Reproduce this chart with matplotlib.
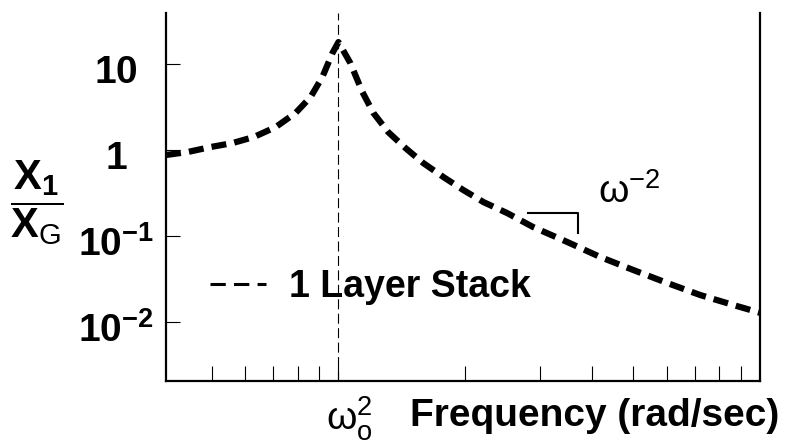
import matplotlib
matplotlib.use("Agg")
import matplotlib.pyplot as plt
from matplotlib.lines import Line2D

# ---------- values ----------
# frequency in units of the resonance frequency
freq_ratio = [0.39, 0.439, 0.498, 0.561, 0.630, 0.710, 0.791, 0.859, 0.916, 0.968,
              1.0, 1.067, 1.140, 1.211, 1.312, 1.442, 1.589, 1.774, 1.977, 2.208,
              2.512, 2.897, 3.491, 4.178, 5.0, 6.026, 7.211, 8.630, 10.0]
# transmissibility X1/XG
amplitude = [0.875, 0.948, 1.084, 1.205, 1.416, 1.849, 2.692, 4.130, 7.063, 13.43,
             18.0, 10.28, 4.72, 2.69, 1.618, 1.054, 0.706, 0.485, 0.343, 0.248,
             0.185, 0.127, 0.0851, 0.0570, 0.0403, 0.0284, 0.0206, 0.0158, 0.0128]

omega0 = 1.0
ytick_vals = [10, 1, 0.1, 0.01]
ytick_labels = [r"$\mathbf{10}$", r"$\mathbf{1}$", r"$\mathbf{10^{-1}}$", r"$\mathbf{10^{-2}}$"]
xminor_ticks = [0.5, 0.6, 0.7, 0.8, 0.9, 1.0, 2, 3, 4, 5, 6, 7, 8, 9]

# little slope bracket drawn under the omega^-2 note
bracket_x = [2.82, 3.70, 3.70]
bracket_y = [0.185, 0.185, 0.108]
slope_note_pos = (4.13, 0.242)

series_label = "1 Layer Stack"

# ---------- style ----------
plt.rcParams["font.family"] = ["Liberation Sans", "DejaVu Sans"]
plt.rcParams["mathtext.fontset"] = "custom"
plt.rcParams["mathtext.rm"] = "Liberation Sans"
plt.rcParams["mathtext.it"] = "Liberation Sans:italic"
plt.rcParams["mathtext.bf"] = "Liberation Sans:bold"

fig = plt.figure(figsize=(7.85, 4.45), dpi=100)
ax = fig.add_axes([0.2115, 0.1438, 0.7567, 0.827])

ax.plot(freq_ratio, amplitude, color="black", lw=4.5, dashes=(2.4, 1.3),
        solid_capstyle="butt", dash_capstyle="butt")
ax.axvline(omega0, color="black", lw=0.8, dashes=(9, 4))
ax.plot(bracket_x, bracket_y, color="black", lw=1.5)

ax.set_xscale("log")
ax.set_yscale("log")
ax.set_xlim(0.39, 10)
ax.set_ylim(0.00206, 39.2)

# y axis: decades only, bold labels
ax.set_yticks(ytick_vals, ytick_labels, ha="center", va="baseline", fontsize=28)
ax.yaxis.set_minor_locator(matplotlib.ticker.NullLocator())
ax.tick_params(axis="y", which="major", direction="in", length=10, width=0.8, pad=36)
# labels sit a little below their ticks in the original
for lab in ax.get_yticklabels():
    lab.set_transform(lab.get_transform()
                      + matplotlib.transforms.ScaledTranslation(0, -14 / 72, fig.dpi_scale_trans))

# x axis: bare tick marks, no numbers
ax.set_xticks(xminor_ticks, [""] * len(xminor_ticks))
ax.xaxis.set_minor_locator(matplotlib.ticker.NullLocator())
ax.tick_params(axis="x", which="major", direction="in", length=11, width=0.8)

for side in ["left", "bottom", "right"]:
    ax.spines[side].set_linewidth(1.6)
ax.spines["top"].set_visible(False)

# axis titles
ax.set_ylabel(r"$\dfrac{\mathbf{X_1}}{\mathbf{X}_{\mathrm{G}}}$", rotation=0, fontsize=30,
              va="center", ha="center")
ax.yaxis.set_label_coords(-0.217, 0.484)

ax.annotate(r"$\mathrm{\omega}_{\mathrm{o}}^{2}$", xy=(omega0, 0),
            xycoords=("data", "axes fraction"), xytext=(-9, -10),
            textcoords="offset points", ha="left", va="top", fontsize=28)
ax.set_xlabel("Frequency (rad/sec)", fontsize=28, fontweight="bold")
ax.xaxis.set_label_coords(0.722, -0.045)

ax.text(slope_note_pos[0], slope_note_pos[1], r"$\mathrm{\omega}^{-2}$",
        fontsize=28, ha="left", va="baseline")

handle = Line2D([], [], color="black", lw=2.2, dashes=(5, 2.7))
ax.legend([handle], [series_label], loc="center left", bbox_to_anchor=(0.074, 0.255),
          frameon=False, borderpad=0, borderaxespad=0, handlelength=1.5,
          handletextpad=0.6, prop={"weight": "bold", "size": 27})

fig.savefig("out.png", dpi=100)
